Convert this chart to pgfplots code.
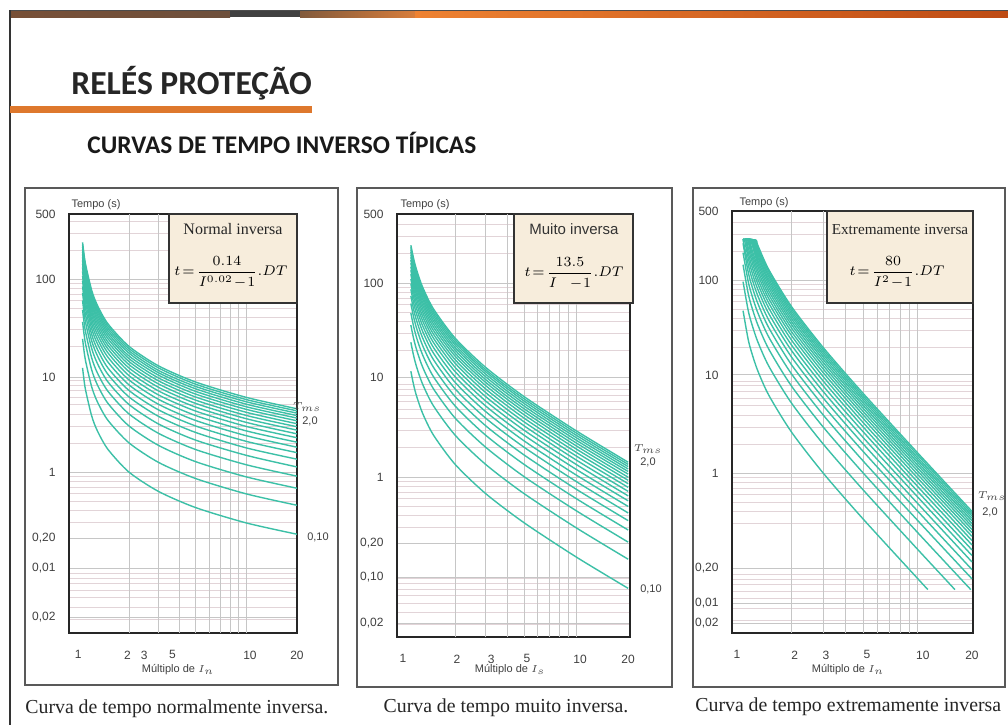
\documentclass[border=0pt]{standalone}
\usepackage{amsmath}
\usepackage{pgfplots}
\pgfplotsset{compat=1.18}
\usepackage{pgfplotstable}
\usepackage{fontspec}
\setmainfont{Liberation Serif}
\newfontfamily\carlito{Carlito}
\newfontfamily\arial{Liberation Sans}
\definecolor{tealc}{RGB}{60,192,167}
\definecolor{boxfill}{RGB}{247,237,220}
\definecolor{orbar}{RGB}{222,120,45}
\definecolor{minorgrid}{RGB}{226,212,216}

% Normal inversa: t for TMS 0.1 ... 2.0
\pgfplotstableread{
I T1 T2 T3 T4 T5 T6 T7 T8 T9 T10 T11 T12 T13 T14 T15 T16 T17 T18 T19 T20
1.06 12.0 24.0 36.0 48.0 60.0 72.1 84.1 96.1 108 120 132 144 156 168 180 192 204 216 228 240
1.1 7.34 14.7 22.0 29.3 36.7 44.0 51.4 58.7 66.0 73.4 80.7 88.0 95.4 103 110 117 125 132 139 147
1.2 3.83 7.67 11.5 15.3 19.2 23.0 26.8 30.7 34.5 38.3 42.2 46.0 49.8 53.7 57.5 61.3 65.2 69.0 72.8 76.7
1.3 2.66 5.32 7.98 10.6 13.3 16.0 18.6 21.3 23.9 26.6 29.3 31.9 34.6 37.3 39.9 42.6 45.2 47.9 50.6 53.2
1.5 1.72 3.44 5.16 6.88 8.60 10.3 12.0 13.8 15.5 17.2 18.9 20.6 22.3 24.1 25.8 27.5 29.2 30.9 32.7 34.4
2 1.00 2.01 3.01 4.01 5.02 6.02 7.02 8.02 9.03 10.0 11.0 12.0 13.0 14.0 15.0 16.0 17.1 18.1 19.1 20.1
3 0.630 1.26 1.89 2.52 3.15 3.78 4.41 5.04 5.67 6.30 6.93 7.56 8.19 8.82 9.45 10.1 10.7 11.3 12.0 12.6
5 0.428 0.856 1.28 1.71 2.14 2.57 3.00 3.42 3.85 4.28 4.71 5.14 5.56 5.99 6.42 6.85 7.28 7.70 8.13 8.56
10 0.297 0.594 0.891 1.19 1.49 1.78 2.08 2.38 2.67 2.97 3.27 3.57 3.86 4.16 4.46 4.75 5.05 5.35 5.64 5.94
20 0.227 0.453 0.680 0.907 1.13 1.36 1.59 1.81 2.04 2.27 2.49 2.72 2.95 3.17 3.40 3.63 3.85 4.08 4.31 4.53
}\tabA

% Muito inversa
\pgfplotstableread{
I T1 T2 T3 T4 T5 T6 T7 T8 T9 T10 T11 T12 T13 T14 T15 T16 T17 T18 T19 T20
1.11 12.3 24.5 36.8 49.1 61.4 73.6 85.9 98.2 110 123 135 147 160 172 184 196 209 221 233 245
1.15 9.00 18.0 27.0 36.0 45.0 54.0 63.0 72.0 81.0 90.0 99.0 108 117 126 135 144 153 162 171 180
1.2 6.75 13.5 20.3 27.0 33.8 40.5 47.3 54.0 60.8 67.5 74.3 81.0 87.8 94.5 101 108 115 122 128 135
1.3 4.50 9.00 13.5 18.0 22.5 27.0 31.5 36.0 40.5 45.0 49.5 54.0 58.5 63.0 67.5 72.0 76.5 81.0 85.5 90.0
1.5 2.70 5.40 8.10 10.8 13.5 16.2 18.9 21.6 24.3 27.0 29.7 32.4 35.1 37.8 40.5 43.2 45.9 48.6 51.3 54.0
2 1.35 2.70 4.05 5.40 6.75 8.10 9.45 10.8 12.2 13.5 14.9 16.2 17.6 18.9 20.3 21.6 23.0 24.3 25.7 27.0
3 0.675 1.35 2.03 2.70 3.38 4.05 4.73 5.40 6.08 6.75 7.43 8.10 8.78 9.45 10.1 10.8 11.5 12.2 12.8 13.5
5 0.338 0.675 1.01 1.35 1.69 2.03 2.36 2.70 3.04 3.38 3.71 4.05 4.39 4.73 5.06 5.40 5.74 6.08 6.41 6.75
10 0.150 0.300 0.450 0.600 0.750 0.900 1.05 1.20 1.35 1.50 1.65 1.80 1.95 2.10 2.25 2.40 2.55 2.70 2.85 3.00
20 0.0711 0.142 0.213 0.284 0.355 0.426 0.497 0.568 0.639 0.711 0.782 0.853 0.924 0.995 1.07 1.14 1.21 1.28 1.35 1.42
}\tabB

\tikzset{tcurve/.style={mark=none, line width=0.7pt, draw=tealc, smooth, tension=0.45}}
\pgfplotsset{
  every axis/.append style={
    scale only axis, anchor=south west,
    axis line style={line width=1.1pt, black!85},
    major tick length=0pt, minor tick length=0pt,
    tick label style={font=\arial\fontsize{6}{6.5}\selectfont, text=black!75},
    xmajorgrids=false, xminorgrids=false,
    ymajorgrids=true, yminorgrids=true,
    major grid style={line width=0.4pt, gray!45},
    minor grid style={line width=0.4pt, minorgrid},
    extra x ticks={2,3,4,5,6,7,8,9,10},
    extra x tick labels={},
    extra x tick style={xmajorgrids=true, major grid style={line width=0.4pt, gray!45}},
    xticklabel style={yshift=-5.3pt},
    yticklabel style={xshift=-3.2pt},
  },
}

\begin{document}
\begin{tikzpicture}
\begin{scope}[x=0.5pt,y=-0.5pt]
  \fill[white] (0,0) rectangle (1008,725);
  % top bar
  \fill[left color={rgb,255:red,120;green,80;blue,55}, right color={rgb,255:red,110;green,80;blue,60}] (10,10) rectangle (230,17);
  \fill[black!75] (230,10) rectangle (300,17);
  \fill[left color={rgb,255:red,130;green,90;blue,60}, right color={rgb,255:red,215;green,125;blue,60}] (300,10) rectangle (415,17);
  \fill[left color={rgb,255:red,238;green,130;blue,50}, right color={rgb,255:red,190;green,75;blue,20}] (415,10) rectangle (1008,17);
  \draw[line width=0.5pt, black!70] (10,10) -- (1008,10);
  \draw[line width=1pt, black!80] (10,10) -- (10,725);
  % titles
  \node[anchor=base west, inner sep=0, font=\carlito\bfseries\fontsize{16.8}{18}\selectfont, text=black!85] at (71,94) {RELÉS PROTEÇÃO};
  \fill[orbar] (10,106) rectangle (312,113);
  \node[anchor=base west, inner sep=0, font=\carlito\bfseries\fontsize{12.7}{14}\selectfont, text=black!90] at (87,153) {CURVAS DE TEMPO INVERSO TÍPICAS};
  % panel frames
  \draw[line width=0.8pt, black!65] (25,188) rectangle (338,685);
  \draw[line width=0.8pt, black!65] (357,188) rectangle (672,687);
  \draw[line width=0.8pt, black!65] (693,188) rectangle (1005,687);
\end{scope}

% ---------------- Panel 1: Normal inversa ----------------
\begin{axis}[xmode=log, ymode=log,
  at={(34.5pt,-316.5pt)}, width=114pt, height=209.5pt,
  xmin=0.88, xmax=20, ymin=0.0215, ymax=472,
  xtick={1,1.96,2.47,3.63,10.5,20}, xticklabels={1,2,3,5,10,20},
  minor ytick={0.03,0.04,0.05,0.06,0.07,0.08,0.09,0.3,0.4,0.5,0.6,0.7,0.8,0.9,2,3,4,5,6,7,8,9,20,30,40,50,60,70,80,90,200,300,400},
  ytick={0.0315,0.101,0.207,1,9.6,100,472},
  yticklabels={{0,02},{0,01},{0,20},1,10,100,500},
]
\pgfplotsinvokeforeach{1,...,20}{\addplot[tcurve] table[x=I,y=T#1]{\tabA};}
\end{axis}

% ---------------- Panel 2: Muito inversa ----------------
\begin{axis}[xmode=log, ymode=log,
  at={(198.5pt,-318.5pt)}, width=116.5pt, height=211.5pt,
  xmin=0.923, xmax=20.5, ymin=0.0224, ymax=514,
  xtick={1,2.05,3.23,5.21,10.55,20}, xticklabels={1,2,3,5,10,20},
  minor ytick={0.03,0.04,0.05,0.06,0.07,0.08,0.09,0.3,0.4,0.5,0.6,0.7,0.8,0.9,2,3,4,5,6,7,8,9,20,30,40,50,60,70,80,90,200,300,400},
  ytick={0.0313,0.093,0.209,1,10.7,100,514},
  yticklabels={{0,02},{0,10},{0,20},1,10,100,500},
]
\pgfplotsinvokeforeach{1,...,20}{\addplot[tcurve] table[x=I,y=T#1]{\tabB};}
\end{axis}

% ---------------- Panel 3: Extremamente inversa ----------------
\begin{axis}[xmode=log, ymode=log,
  at={(366pt,-316.5pt)}, width=120.5pt, height=211pt,
  xmin=0.938, xmax=20.27, ymin=0.022, ymax=519,
  xtick={1,2.09,3.11,5.25,10.7,20}, xticklabels={1,2,3,5,10,20},
  minor ytick={0.03,0.04,0.05,0.06,0.07,0.08,0.09,0.3,0.4,0.5,0.6,0.7,0.8,0.9,2,3,4,5,6,7,8,9,20,30,40,50,60,70,80,90,200,300,400},
  ytick={0.0279,0.045,0.104,1,10.4,100,519},
  yticklabels={{0,02},{0,01},{0,20},1,10,100,500},
]
\addplot[tcurve] coordinates {(1.08,48.1)(1.15,24.8)(1.2,18.2)(1.3,11.6)(1.5,6.40)(2,2.67)(3,1.00)(5,0.333)(10,0.0808)(11.4,0.062)};
\addplot[tcurve] coordinates {(1.08,96.2)(1.15,49.6)(1.2,36.4)(1.3,23.2)(1.5,12.8)(2,5.33)(3,2.00)(5,0.667)(10,0.162)(16.1,0.062)};
\addplot[tcurve] coordinates {(1.08,144)(1.15,74.4)(1.2,54.5)(1.3,34.8)(1.5,19.2)(2,8.00)(3,3.00)(5,1.00)(10,0.242)(19.7,0.062)};
\addplot[tcurve] coordinates {(1.08,192)(1.15,99.2)(1.2,72.7)(1.3,46.4)(1.5,25.6)(2,10.7)(3,4.00)(5,1.33)(10,0.323)(20,0.0802)};
\addplot[tcurve] coordinates {(1.08,240)(1.15,124)(1.2,90.9)(1.3,58.0)(1.5,32.0)(2,13.3)(3,5.00)(5,1.67)(10,0.404)(20,0.100)};
\addplot[tcurve] coordinates {(1.08,260)(1.15,149)(1.2,109)(1.3,69.5)(1.5,38.4)(2,16.0)(3,6.00)(5,2.00)(10,0.485)(20,0.120)};
\addplot[tcurve] coordinates {(1.08,260)(1.10,260)(1.15,174)(1.2,127)(1.3,81.1)(1.5,44.8)(2,18.7)(3,7.00)(5,2.33)(10,0.566)(20,0.140)};
\addplot[tcurve] coordinates {(1.08,260)(1.116,260)(1.15,198)(1.2,145)(1.3,92.7)(1.5,51.2)(2,21.3)(3,8.00)(5,2.67)(10,0.646)(20,0.160)};
\addplot[tcurve] coordinates {(1.08,260)(1.13,260)(1.15,223)(1.2,164)(1.3,104)(1.5,57.6)(2,24.0)(3,9.00)(5,3.00)(10,0.727)(20,0.180)};
\addplot[tcurve] coordinates {(1.08,260)(1.144,260)(1.2,182)(1.3,116)(1.5,64.0)(2,26.7)(3,10.0)(5,3.33)(10,0.808)(20,0.200)};
\addplot[tcurve] coordinates {(1.08,260)(1.157,260)(1.2,200)(1.3,127)(1.5,70.4)(2,29.3)(3,11.0)(5,3.67)(10,0.889)(20,0.221)};
\addplot[tcurve] coordinates {(1.08,260)(1.170,260)(1.2,218)(1.3,139)(1.5,76.8)(2,32.0)(3,12.0)(5,4.00)(10,0.970)(20,0.241)};
\addplot[tcurve] coordinates {(1.08,260)(1.183,260)(1.3,151)(1.5,83.2)(2,34.7)(3,13.0)(5,4.33)(10,1.05)(20,0.261)};
\addplot[tcurve] coordinates {(1.08,260)(1.196,260)(1.3,162)(1.5,89.6)(2,37.3)(3,14.0)(5,4.67)(10,1.13)(20,0.281)};
\addplot[tcurve] coordinates {(1.08,260)(1.209,260)(1.3,174)(1.5,96.0)(2,40.0)(3,15.0)(5,5.00)(10,1.21)(20,0.301)};
\addplot[tcurve] coordinates {(1.08,260)(1.222,260)(1.3,185)(1.5,102)(2,42.7)(3,16.0)(5,5.33)(10,1.29)(20,0.321)};
\addplot[tcurve] coordinates {(1.08,260)(1.234,260)(1.3,197)(1.5,109)(2,45.3)(3,17.0)(5,5.67)(10,1.37)(20,0.341)};
\addplot[tcurve] coordinates {(1.08,260)(1.247,260)(1.3,209)(1.5,115)(2,48.0)(3,18.0)(5,6.00)(10,1.45)(20,0.361)};
\addplot[tcurve] coordinates {(1.08,260)(1.259,260)(1.3,220)(1.5,122)(2,50.7)(3,19.0)(5,6.33)(10,1.54)(20,0.381)};
\addplot[tcurve] coordinates {(1.08,260)(1.271,260)(1.3,232)(1.5,128)(2,53.3)(3,20.0)(5,6.67)(10,1.62)(20,0.401)};
\end{axis}

\begin{scope}[x=0.5pt,y=-0.5pt]
  % formula boxes
  \draw[fill=boxfill, draw=black!80, line width=0.6pt] (169,214) rectangle (297,303);
  \node[font=\fontsize{8}{9}\selectfont, text=black!85] at (233,229) {Normal inversa};
  \node[font=\fontsize{7}{8}\selectfont] at (231,272) {$t\!=\!\dfrac{0.14}{I^{0.02}\!-\!1}.DT$};
  \draw[fill=boxfill, draw=black!80, line width=0.6pt] (514,214) rectangle (633,303);
  \node[font=\arial\fontsize{7.5}{9}\selectfont, text=black!80] at (574,229) {Muito inversa};
  \node[font=\fontsize{7.5}{8}\selectfont] at (574,273) {$t\!=\!\dfrac{13.5}{I\;\;-\!1}.DT$};
  \draw[fill=boxfill, draw=black!80, line width=0.6pt] (827,211) rectangle (973,303);
  \node[font=\fontsize{7.6}{9}\selectfont, text=black!85] at (900,230) {Extremamente inversa};
  \node[font=\fontsize{7}{8}\selectfont] at (897,272) {$t\!=\!\dfrac{80}{I^{2}\!-\!1}.DT$};
  % axis texts
  \begin{scope}[every node/.style={font=\arial\fontsize{5.5}{6}\selectfont, text=black!75, inner sep=0}]
    \node at (96,205) {Tempo (s)};
    \node at (425,205) {Tempo (s)};
    \node at (764,203) {Tempo (s)};
    \node at (178,670) {Múltiplo de $I_n$};
    \node at (510,670) {Múltiplo de $I_s$};
    \node at (848,670) {Múltiplo de $I_n$};
    \node at (307,407) {$T_{ms}$};
    \node at (310,421) {2,0};
    \node at (318,537) {0,10};
    \node at (648,449) {$T_{ms}$};
    \node at (648,462) {2,0};
    \node at (651,589) {0,10};
    \node at (992,496) {$T_{ms}$};
    \node at (990,512) {2,0};
  \end{scope}
  % captions
  \begin{scope}[every node/.style={font=\fontsize{9.9}{11}\selectfont, text=black!85, inner sep=0}]
    \node[anchor=base west] at (25,713) {Curva de tempo normalmente inversa.};
    \node[anchor=base] at (506,712) {Curva de tempo muito inversa.};
    \node[anchor=base west] at (695,711) {Curva de tempo extremamente inversa};
  \end{scope}
\end{scope}
\pgfresetboundingbox
\path[use as bounding box] (0pt,0pt) rectangle (504pt,-362.5pt);
\end{tikzpicture}
\end{document}
